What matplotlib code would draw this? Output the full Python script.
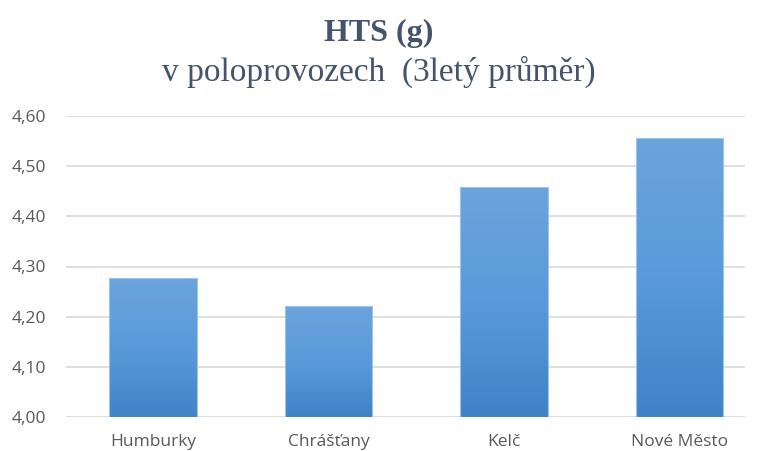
import numpy as np
import matplotlib.pyplot as plt
from matplotlib.colors import LinearSegmentedColormap

categories = ["Humburky", "Chrášťany", "Kelč", "Nové Město"]
values = [4.277, 4.221, 4.459, 4.557]
yticks = [4.00, 4.10, 4.20, 4.30, 4.40, 4.50, 4.60]
ytick_labels = ["4,00", "4,10", "4,20", "4,30", "4,40", "4,50", "4,60"]

fig = plt.figure(figsize=(7.58, 4.51), dpi=100)
ax = fig.add_axes([66 / 758, 1 - 417 / 451, 679 / 758, 301 / 451])

x = np.arange(len(categories))
bars = ax.bar(x, values, width=0.5, bottom=0, color="none", edgecolor="#9DC3E6",
              linewidth=0.8, zorder=3)

# vertical gradient fill, clipped to each bar
grad = LinearSegmentedColormap.from_list("g", ["#3F83C6", "#5A9ADB", "#6CA4DC"])
gimg = np.linspace(0, 1, 256).reshape(-1, 1)
for b in bars:
    x0, w, h = b.get_x(), b.get_width(), b.get_height()
    im = ax.imshow(gimg, cmap=grad, origin="lower", aspect="auto",
                   extent=[x0, x0 + w, 4.0, h], zorder=2)
    im.set_clip_path(b)

ax.set_xlim(-0.496, 3.373)
ax.set_ylim(4.0, 4.6)
ax.set_yticks(yticks)
ax.set_yticklabels(ytick_labels)
ax.set_xticks(x)
ax.set_xticklabels(categories)
ax.yaxis.grid(True, color="#D9D9D9", linewidth=1.2, zorder=0)
ax.set_axisbelow(True)
for s in ax.spines.values():
    s.set_visible(False)
ax.tick_params(length=0, labelsize=12.5, labelcolor="#595959", pad=14)
ax.tick_params(axis="x", pad=12)
for lab in ax.get_xticklabels() + ax.get_yticklabels():
    lab.set_family(["Open Sans", "DejaVu Sans"])

fig.text(0.5, 1 - 33 / 451, "HTS (g)", ha="center", va="center",
         family="Liberation Serif", fontweight="bold", fontsize=23, color="#44546A")
fig.text(0.5, 1 - 72 / 451, "v poloprovozech  (3letý průměr)", ha="center", va="center",
         family="Liberation Serif", fontsize=24, color="#44546A")

fig.savefig("out.png", dpi=100)
